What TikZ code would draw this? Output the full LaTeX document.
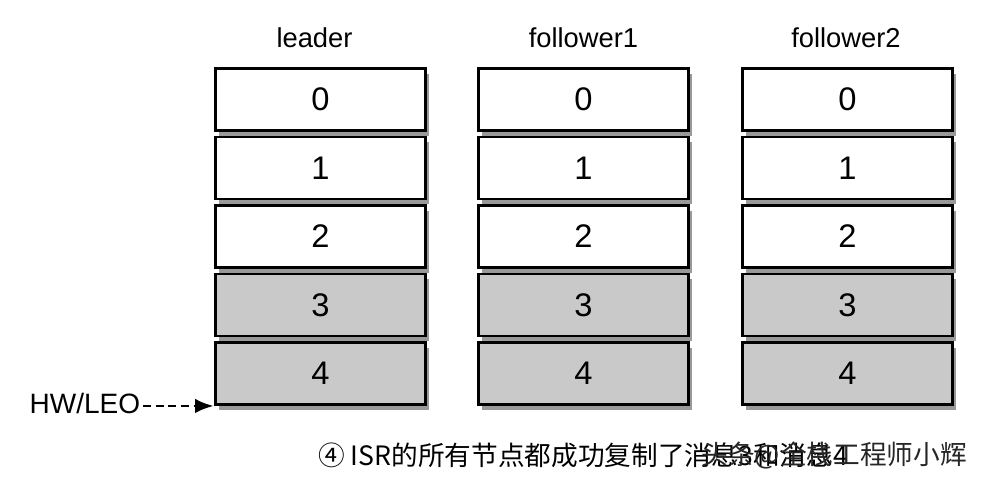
\documentclass[tikz,border=0pt]{standalone}
\usepackage{fontspec}
\setmainfont{Liberation Sans}
\newfontfamily\cjk{Noto Sans CJK SC}
\usetikzlibrary{shadows,arrows.meta}

\definecolor{cellgray}{RGB}{201,201,201}
\tikzset{
  cell/.style={draw=black, line width=2.2pt, minimum width=158pt, minimum height=46.5pt,
    inner sep=0pt, font=\fontsize{24.5}{26}\selectfont,
    drop shadow={shadow xshift=2.5pt, shadow yshift=-4pt, opacity=0.4, fill=black}},
  head/.style={font=\fontsize{20.5}{24}\selectfont, anchor=base, inner sep=0pt},
}
\newcommand{\printCell}[4]{\node [cell, fill=#4] (#1-#2) at (#3,{99.5+68.5*#2}) {#2};}

\begin{document}
\begin{tikzpicture}[x=0.75pt,y=-0.75pt,>={Latex[length=14pt,width=11pt]}]
  \useasboundingbox (0,0) rectangle (981,482);

  \foreach \col/\x/\tx/\name in {lead/320.5/314.5/leader, fol1/583.5/583.5/follower1, fol2/847.5/846/follower2} {
      \node [head] (\col-title) at (\tx,47) {\name};
      \foreach \i/\c in {0/white,1/white,2/white,3/cellgray,4/cellgray} {
          \printCell{\col}{\i}{\x}{\c}
        }
    }

  % high watermark / log end offset
  \node [font=\fontsize{21}{24}\selectfont, anchor=east, inner sep=2pt] (hw) at (143,403) {HW/LEO};
  \draw [->, line width=2.2pt, dash pattern=on 6pt off 3.5pt] (hw.east |- lead-4.south west) -- (lead-4.south west);

  \node [font=\cjk\fontsize{20}{24}\selectfont, anchor=west, inner sep=0pt] (caption) at (318,455) {④ ISR的所有节点都成功复制了消息3和消息4};
  \node [font=\cjk\fontsize{20}{24}\selectfont, anchor=east, inner sep=0pt, text=black!85] (mark) at (967,455) {头条@全栈工程师小辉};
\end{tikzpicture}
\end{document}
